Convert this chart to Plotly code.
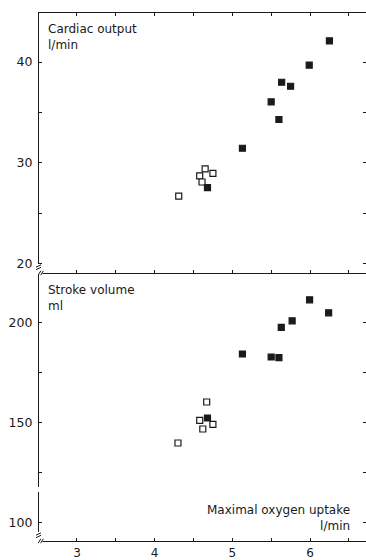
import plotly.graph_objects as go

# Data
# Cardiac output (l/min) vs maximal oxygen uptake (l/min)
co_open_x = [4.31, 4.65, 4.75, 4.58, 4.61]
co_open_y = [26.7, 29.4, 28.95, 28.7, 28.1]
co_fill_x = [4.68, 5.13, 5.50, 5.60, 5.635, 5.75, 5.99, 6.25]
co_fill_y = [27.55, 31.45, 36.05, 34.3, 38.0, 37.6, 39.7, 42.1]

# Stroke volume (ml) vs maximal oxygen uptake
sv_open_x = [4.30, 4.58, 4.62, 4.67, 4.75]
sv_open_y = [139.7, 151.0, 146.7, 160.2, 149.0]
sv_fill_x = [4.68, 5.13, 5.50, 5.60, 5.63, 5.77, 5.995, 6.24]
sv_fill_y = [152.2, 184.2, 182.7, 182.4, 197.5, 200.8, 211.3, 204.8]

x_ticks = [3, 3.5, 4, 4.5, 5, 5.5, 6, 6.5]
x_labels = ["3", "", "4", "", "5", "", "6", ""]
co_ticks = [20, 25, 30, 35, 40]
co_labels = ["20", "", "30", "", "40"]
sv_ticks = [100, 125, 150, 175, 200]
sv_labels = ["100", "", "150", "", "200"]

FONT = "DejaVu Sans"
INK = "#1a1a1a"

fig = go.Figure()

def add(x, y, xa, ya, filled):
    fig.add_trace(go.Scatter(
        x=x, y=y, mode="markers", xaxis=xa, yaxis=ya, showlegend=False,
        marker=dict(symbol="square", size=6,
                    color=INK if filled else "white",
                    line=dict(color=INK, width=1.2)),
    ))

add(co_open_x, co_open_y, "x2", "y", False)
add(co_fill_x, co_fill_y, "x2", "y", True)
add(sv_open_x, sv_open_y, "x", "y2", False)
add(sv_fill_x, sv_fill_y, "x", "y2", True)

W, H, L, T, B = 366, 560, 39, 13, 19
pw, ph = W - L, H - T - B
split = (H - B - 273) / ph

common_x = dict(range=[2.511, 6.721], tickvals=x_ticks, ticktext=x_labels,
                ticks="inside", ticklen=3, tickcolor=INK, tickwidth=1,
                showgrid=False, zeroline=False, showline=True, automargin=False,
                linecolor=INK, linewidth=1.3, ticklabelstandoff=0,
                tickfont=dict(family=FONT, size=12, color=INK))
common_y = dict(ticks="inside", ticklen=3, tickcolor=INK, automargin=False,
                showgrid=False, zeroline=False, showline=True, linecolor=INK,
                linewidth=1.3, mirror="ticks", ticklabelstandoff=3,
                tickfont=dict(family=FONT, size=12.5, color=INK))

fig.update_layout(
    width=W, height=H,
    margin=dict(l=L, r=0, t=T, b=B, autoexpand=False),
    paper_bgcolor="white", plot_bgcolor="white",
    xaxis=dict(**common_x, anchor="y2", domain=[0, 1]),
    xaxis2=dict(**common_x, anchor="y", matches="x", showticklabels=False,
                mirror="ticks"),
    yaxis=dict(**common_y, domain=[split, 1], range=[19.07, 44.87],
               tickvals=co_ticks, ticktext=co_labels, anchor="x2"),
    yaxis2=dict(**common_y, domain=[0, split], range=[90.7, 224.7],
                tickvals=sv_ticks, ticktext=sv_labels, anchor="x"),
)

ann_font = dict(family=FONT, size=12, color=INK)
fig.add_annotation(text="Cardiac output<br>l/min", xref="x2 domain", yref="y domain",
                   x=0.02, y=0.975, xanchor="left", yanchor="top", align="left",
                   showarrow=False, font=ann_font)
fig.add_annotation(text="Stroke volume<br>ml", xref="x domain", yref="y2 domain",
                   x=0.02, y=0.972, xanchor="left", yanchor="top", align="left",
                   showarrow=False, font=ann_font)
fig.add_annotation(text="Maximal oxygen uptake<br>l/min", xref="x domain", yref="y2 domain",
                   x=0.958, y=0.022, xanchor="right", yanchor="bottom", align="right",
                   showarrow=False, font=ann_font)

# Axis break decorations (white gaps + squiggles) in paper pixels
bot = H - B
def px(xp):
    return (xp - L) / pw
def py(yp):
    return (bot - yp) / ph

shapes = []
for (y0, y1) in [(264, 272.5), (bot - 9, bot), (487, 492)]:
    shapes.append(dict(type="rect", xref="paper", yref="paper",
                       x0=px(36.5), x1=px(40.5), y0=py(y1), y1=py(y0),
                       fillcolor="white", line=dict(width=0), layer="above"))
for yp in [273, bot]:
    shapes.append(dict(type="rect", xref="paper", yref="paper",
                       x0=px(37.5), x1=px(42.5), y0=py(yp + 1.2), y1=py(yp - 1.2),
                       fillcolor="white", line=dict(width=0), layer="above"))
def squiggle(cx, cy, dx, dy):
    return dict(type="path", xref="paper", yref="paper", layer="above",
                path=f"M {px(cx - dx)} {py(cy + dy)} L {px(cx + dx)} {py(cy - dy)}",
                line=dict(color=INK, width=1))
for cy in [266, bot - 7]:
    shapes.append(squiggle(38.5, cy, 2.5, 1.2))
    shapes.append(squiggle(38.5, cy + 2.5, 2.5, 1.2))
for cy in [273, bot]:
    shapes.append(squiggle(39.5, cy, 1.3, 2.2))
    shapes.append(squiggle(42, cy, 1.3, 2.2))
fig.update_layout(shapes=shapes)

fig.write_html("out.html")
